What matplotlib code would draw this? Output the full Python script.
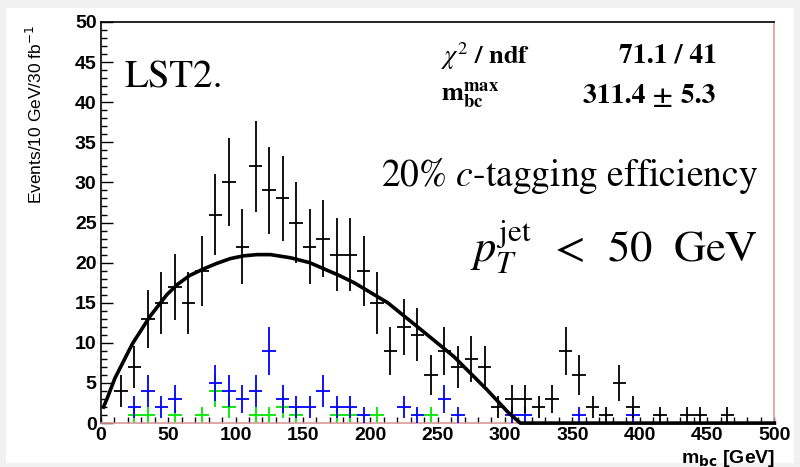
import numpy as np
import matplotlib.pyplot as plt
from matplotlib.patches import Rectangle
from matplotlib.ticker import MultipleLocator

# bin centres [GeV] and event counts (empty bins left out)
black_x = [15, 25, 35, 45, 55, 65, 75, 85, 95, 105, 115, 125, 135, 145, 155, 165, 175, 185, 195, 205,
           215, 225, 235, 245, 255, 265, 275, 285, 295, 305, 315, 325, 335, 345, 355, 365, 375, 385, 395,
           415, 435, 445, 465]
black_n = [4, 7, 13, 15, 17, 15, 19, 26, 30, 22, 32, 29, 28, 25, 22, 23, 21, 21, 19, 15,
           9, 12, 11, 6, 9, 7, 8, 7, 2, 3, 3, 2, 3, 9, 6, 2, 1, 5, 2,
           1, 1, 1, 1]

blue_x = [25, 35, 45, 55, 85, 95, 105, 115, 125, 135, 145, 155, 165, 175, 185, 195, 225, 235, 255, 265,
          305, 315, 355, 395]
blue_n = [2, 4, 2, 3, 5, 4, 3, 4, 9, 3, 2, 2, 4, 2, 2, 1, 2, 1, 3, 1, 1, 1, 1, 1]

green_x = [25, 35, 55, 75, 85, 95, 115, 125, 135, 145, 175, 185, 205, 245]
green_n = [1, 1, 1, 1, 4, 2, 1, 1, 2, 1, 1, 1, 1, 1]

# fit curve
fit_m = [2, 5, 10.5, 23.5, 36.5, 49, 57, 66, 76, 86, 96, 106, 116, 126, 141, 155, 166, 177, 188,
         213, 238, 262, 287, 302, 311.4, 500]
fit_y = [2.0, 3.2, 5.6, 9.9, 13.3, 16.0, 17.3, 18.4, 19.2, 19.9, 20.5, 20.85, 21.0, 21.0, 20.6, 20.0,
         19.2, 18.4, 17.5, 15.0, 11.6, 8.3, 4.1, 1.4, 0.0, 0.0]

bin_half = 5

fig = plt.figure(figsize=(8, 4.67), dpi=100, facecolor="#f1f1f1")
fig.patches.append(Rectangle((0.008, 0.008), 0.984, 0.975, transform=fig.transFigure,
                             facecolor="white", edgecolor="none", zorder=-1))
ax = fig.add_axes([0.126, 0.094, 0.842, 0.859])
ax.set_zorder(1)

for xs, ns, col, z in [(green_x, green_n, "#00e600", 2), (blue_x, blue_n, "#0000ff", 3),
                       (black_x, black_n, "black", 4)]:
    ax.errorbar(xs, ns, xerr=bin_half, yerr=np.sqrt(ns), fmt="none", ecolor=col,
                elinewidth=1.3, capsize=0, zorder=z)

ax.plot(fit_m, fit_y, color="black", lw=2.6, zorder=5, clip_on=False)

ax.set_xlim(0, 500)
ax.set_ylim(0, 50)
ax.xaxis.set_major_locator(MultipleLocator(50))
ax.xaxis.set_minor_locator(MultipleLocator(10))
ax.yaxis.set_major_locator(MultipleLocator(5))
ax.yaxis.set_minor_locator(MultipleLocator(1))
ax.tick_params(axis="x", which="both", direction="in", length=4, width=1, pad=3)
ax.tick_params(axis="y", which="major", direction="in", length=8.5, width=1, pad=3)
ax.tick_params(axis="y", which="minor", direction="in", length=4.3, width=1)
for lab in ax.get_xticklabels() + ax.get_yticklabels():
    lab.set_fontfamily("Liberation Sans")
    lab.set_fontweight("bold")
    lab.set_fontsize(14)

ax.spines["right"].set_color("#d89a9a")
ax.spines["bottom"].set_color("#d89a9a")
for s in ax.spines.values():
    s.set_linewidth(1.2)

fig.text(0.044, 0.755, r"Events/10 GeV/30 fb$^{-1}$", rotation=90, ha="center", va="center",
         family="Liberation Sans", fontsize=12.5, math_fontfamily="dejavusans")
fig.text(0.969, 0.019, r"m$_{\mathbf{bc}}$ [GeV]", ha="right", va="center", family="Liberation Sans",
         fontweight="bold", fontsize=14, math_fontfamily="dejavusans")

ax.text(0.035, 0.86, "LST2.", transform=ax.transAxes, family="STIXGeneral", fontsize=28,
        ha="left", va="center")
ax.text(0.505, 0.915, r"$\chi^{2}$ / ndf", transform=ax.transAxes, family="STIXGeneral",
        fontweight="bold", fontsize=19, ha="left", va="center", math_fontfamily="stix")
ax.text(0.915, 0.915, "71.1 / 41", transform=ax.transAxes, family="STIXGeneral",
        fontweight="bold", fontsize=20, ha="right", va="center")
ax.text(0.505, 0.815, r"$\mathbf{m}_{\mathbf{bc}}^{\mathbf{max}}$", transform=ax.transAxes,
        family="STIXGeneral", fontsize=19, ha="left", va="center", math_fontfamily="stix")
ax.text(0.912, 0.815, "311.4 ± 5.3", transform=ax.transAxes, family="STIXGeneral",
        fontweight="bold", fontsize=20, ha="right", va="center")
ax.text(0.975, 0.615, r"20% $c$-tagging efficiency", transform=ax.transAxes, family="STIXGeneral",
        fontsize=27, ha="right", va="center", math_fontfamily="stix")
ax.text(0.975, 0.44, r"$p_T^{\rm jet}\ \,<\ \,50\ \ {\rm GeV}$", transform=ax.transAxes,
        fontsize=32, ha="right", va="center", math_fontfamily="stix")

fig.savefig("out.png", dpi=100, facecolor=fig.get_facecolor())
